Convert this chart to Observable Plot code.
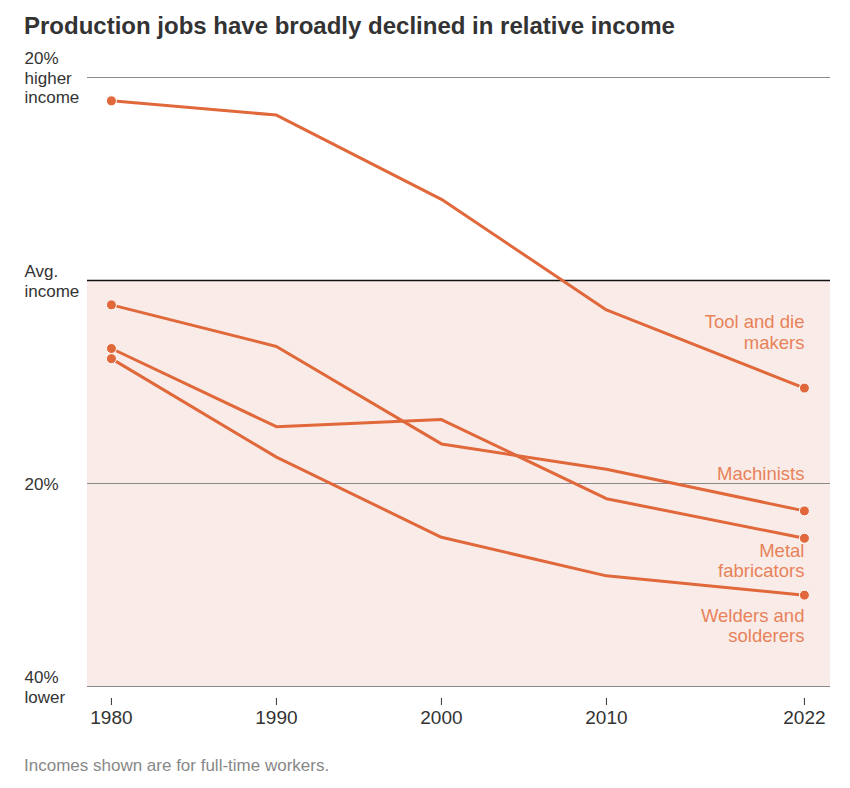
<!DOCTYPE html>
<html><head><meta charset="utf-8">
<script src="https://cdn.jsdelivr.net/npm/d3@7"></script>
<script src="https://cdn.jsdelivr.net/npm/@observablehq/plot@0.6"></script>
<style>
body{margin:0;background:#fff;font-family:"Liberation Sans",Arial,sans-serif;}
#wrap{position:relative;width:850px;height:788px;overflow:hidden}
#title{position:absolute;left:24px;top:12px;font-weight:bold;font-size:24px;line-height:28px;color:#333;white-space:nowrap}
#chart{position:absolute;left:0;top:50px}
#caption{position:absolute;left:24px;top:756px;font-size:17px;line-height:20px;color:#888}
</style></head><body>
<div id="wrap">
<div id="title">Production jobs have broadly declined in relative income</div>
<div id="chart"></div>
<div id="caption">Incomes shown are for full-time workers.</div>
</div>
<script>
const years = [1980, 1990, 2000, 2010, 2022];
const toolDie = [17.7, 16.3, 8.0, -2.9, -10.6];
const machinists = [-2.4, -6.5, -16.1, -18.6, -22.7];
const metalFab = [-6.7, -14.4, -13.7, -21.5, -25.4];
const welders = [-7.7, -17.4, -25.3, -29.1, -31.0];
const seriesNames = ["Tool and die makers", "Machinists", "Metal fabricators", "Welders and solderers"];
const seriesLabels = ["Tool and die\nmakers", "Machinists", "Metal\nfabricators", "Welders and\nsolderers"];
const yTicks = [20, 0, -20, -40];
const yTickLabels = ["20%\nhigher\nincome", "Avg.\nincome", "20%", "40%\nlower"];

const seriesValues = [toolDie, machinists, metalFab, welders];
const rows = seriesNames.flatMap((s, k) => years.map((yr, i) => ({series: s, year: yr, value: seriesValues[k][i]})));
const ends = rows.filter(d => d.year === years[0] || d.year === years[years.length - 1]);
const lastRows = rows.filter(d => d.year === years[years.length - 1]);
const yLab = yTicks.map((v, i) => ({v, label: yTickLabels[i]}));

const lineColor = "#e0683a";
const labelColor = "#e8825a";
const labelDy = [-56, -37, 22, 30];

const labelMarks = seriesNames.map((s, k) => Plot.text(lastRows.filter(d => d.series === s), {
  x: "year", y: "value", text: () => seriesLabels[k], dy: labelDy[k], dx: 0,
  textAnchor: "end", lineAnchor: "middle", fill: labelColor, fontSize: 18.5, lineHeight: 1.09
}));

const chart = Plot.plot({
  width: 850, height: 690,
  marginLeft: 87, marginRight: 20, marginTop: 27, marginBottom: 54,
  style: {fontFamily: "Liberation Sans, Arial, sans-serif", fontSize: "16px", color: "#333", overflow: "visible"},
  x: {domain: [1978.55, 2023.58]},
  y: {domain: [-40, 20], axis: null},
  marks: [
    Plot.rectY([0], {y1: 0, y2: -40, fill: "#f9ece8"}),
    Plot.ruleY([20, -20, -40], {stroke: "#8a8a8a", strokeWidth: 1}),
    Plot.ruleY([0], {stroke: "#111", strokeWidth: 1.3}),
    Plot.line(rows, {x: "year", y: "value", z: "series", stroke: lineColor, strokeWidth: 3}),
    Plot.dot(ends, {x: "year", y: "value", r: 5, fill: lineColor, stroke: "#fff", strokeWidth: 1}),
    ...labelMarks,
    Plot.text(yLab, {y: "v", text: "label", frameAnchor: "left", dx: -63, textAnchor: "start", lineAnchor: "middle", fill: "#333", fontSize: 17, lineHeight: 1.15}),
    Plot.axisX(years, {tickSize: 7, dy: 12, tickPadding: 5, tickFormat: d => String(d), fontSize: 19, color: "#333", label: null})
  ]
});
document.getElementById("chart").appendChild(chart);
</script>
</body></html>
